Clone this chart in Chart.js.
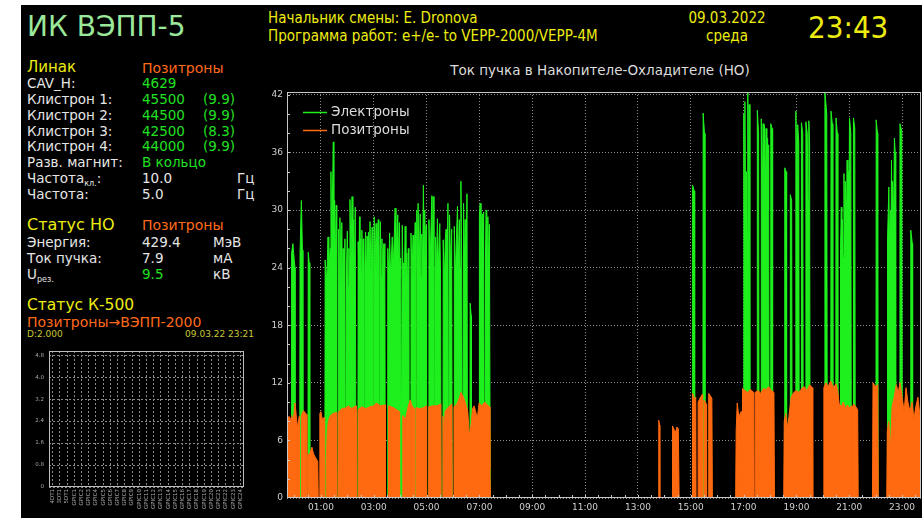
<!DOCTYPE html>
<html><head><meta charset="utf-8">
<script src="https://cdn.jsdelivr.net/npm/chart.js@4.4.1/dist/chart.umd.min.js"></script>
<style>
html,body{margin:0;padding:0;background:#fff;width:922px;height:518px;overflow:hidden;position:relative;}
#scr{position:absolute;left:21px;top:5px;width:901px;height:513px;background:#000;}
.t{position:absolute;white-space:nowrap;line-height:1;font-family:"DejaVu Sans",sans-serif;font-size:13.5px;color:#e6e6e6;}
.c{font-family:"DejaVu Sans Condensed","DejaVu Sans",sans-serif;font-stretch:condensed;}
.y{color:#ecec10}.o{color:#ff6a1a}.g{color:#22e022}
.t sub{font-size:8px;vertical-align:baseline;position:relative;top:3px;}
#main{position:absolute;left:240px;top:60px;}
#small{position:absolute;left:21px;top:340px;}
</style></head><body>
<div id="scr"></div>

<div class="t" style="left:27px;top:13px;font-size:28px;color:#9be89b">ИК ВЭПП-5</div>

<div class="t y" style="left:27px;top:60px;font-size:15px">Линак</div>
<div class="t o" style="left:142px;top:60.5px;font-size:14px">Позитроны</div>

<div class="t" style="left:27px;top:76.5px">CAV_H:</div>
<div class="t g" style="left:142px;top:76.5px">4629</div>
<div class="t" style="left:27px;top:92.5px">Клистрон 1:</div>
<div class="t g" style="left:142px;top:92.5px">45500</div>
<div class="t g" style="left:203px;top:92.5px">(9.9)</div>
<div class="t" style="left:27px;top:108.5px">Клистрон 2:</div>
<div class="t g" style="left:142px;top:108.5px">44500</div>
<div class="t g" style="left:203px;top:108.5px">(9.9)</div>
<div class="t" style="left:27px;top:124.5px">Клистрон 3:</div>
<div class="t g" style="left:142px;top:124.5px">42500</div>
<div class="t g" style="left:203px;top:124.5px">(8.3)</div>
<div class="t" style="left:27px;top:139.5px">Клистрон 4:</div>
<div class="t g" style="left:142px;top:139.5px">44000</div>
<div class="t g" style="left:203px;top:139.5px">(9.9)</div>
<div class="t" style="left:27px;top:155.5px">Разв. магнит:</div>
<div class="t g" style="left:142px;top:155.5px">В кольцо</div>
<div class="t" style="left:27px;top:171.5px">Частота<sub>кл.</sub>:</div>
<div class="t" style="left:142px;top:171.5px">10.0</div>
<div class="t" style="left:237px;top:171.5px">Гц</div>
<div class="t" style="left:27px;top:187.5px">Частота:</div>
<div class="t" style="left:142px;top:187.5px">5.0</div>
<div class="t" style="left:237px;top:187.5px">Гц</div>

<div class="t y" style="left:27px;top:217px;font-size:16px">Статус НО</div>
<div class="t o" style="left:142px;top:218px;font-size:14px">Позитроны</div>
<div class="t" style="left:27px;top:235.5px">Энергия:</div>
<div class="t" style="left:142px;top:235.5px">429.4</div>
<div class="t" style="left:213px;top:235.5px">МэВ</div>
<div class="t" style="left:27px;top:251.5px">Ток пучка:</div>
<div class="t" style="left:142px;top:251.5px">7.9</div>
<div class="t" style="left:213px;top:251.5px">мА</div>
<div class="t" style="left:27px;top:267.5px">U<sub>рез.</sub></div>
<div class="t g" style="left:142px;top:267.5px">9.5</div>
<div class="t" style="left:213px;top:267.5px">кВ</div>

<div class="t y" style="left:27px;top:297.5px;font-size:15.5px">Статус К-500</div>
<div class="t o" style="left:27px;top:315px;font-size:14px">Позитроны→ВЭПП-2000</div>
<div class="t" style="left:27px;top:330px;font-size:9px;color:#c8c832">D:2.000</div>
<div class="t" style="right:668px;top:330px;font-size:9px;color:#c8c832">09.03.22 23:21</div>

<div class="t c y" style="left:268px;top:11px;font-size:15px">Начальник смены: E. Dronova</div>
<div class="t c y" style="left:268px;top:29px;font-size:15px">Программа работ: e+/e- to VEPP-2000/VEPP-4M</div>
<div class="t c y" style="left:727px;top:11px;font-size:15px;transform:translateX(-50%)">09.03.2022</div>
<div class="t c y" style="left:727px;top:29px;font-size:15px;transform:translateX(-50%)">среда</div>
<div class="t c y" style="left:808px;top:12px;font-size:31px">23:43</div>

<div class="t" style="left:600px;top:63.5px;transform:translateX(-50%);color:#dcdcdc">Ток пучка в Накопителе-Охладителе (НО)</div>

<canvas id="main" width="682" height="458"></canvas>
<canvas id="small" width="235" height="178"></canvas>

<script>
// ---- main chart data (hours since 00:00, beam current mA) ----
const seriesNames = ['Электроны', 'Позитроны'];
const hourTicks = [1,3,5,7,9,11,13,15,17,19,21,23];
const currentTicks = [0,6,12,18,24,30,36,42];

const electrons = [
[-0.283,0],[-0.11,0],[-0.11,25.5],[-0.06,26.5],[-0.01,24.8],[0.02,24.0],[0.02,0],
[0.20,0],[0.21,25.5],[0.26,31.0],[0.30,25.8],[0.32,0],
[0.51,0],[0.52,25.6],[0.56,24.5],[0.58,0],
[1.15,0],[1.16,24.8],[1.22,22.5],[1.27,27.2],[1.30,23.0],[1.35,26.0],[1.38,34.0],[1.41,26.5],[1.47,37.1],[1.49,25.0],[1.52,31.0],[1.55,24.5],[1.58,30.5],[1.60,0],
[1.66,0],[1.67,28.0],[1.70,23.5],[1.72,29.2],[1.76,22.0],[1.79,28.7],[1.82,21.5],[1.84,26.0],[1.87,22.0],[1.91,27.0],[1.93,0],[1.96,0],[1.97,24.0],[2.00,27.8],[2.03,22.0],[2.06,26.0],[2.08,24.0],[2.10,31.1],[2.14,25.0],[2.18,31.4],[2.21,24.0],[2.24,29.0],[2.27,23.0],[2.30,30.3],[2.33,0],
[2.40,0],[2.41,26.7],[2.44,23.0],[2.46,29.3],[2.48,24.0],[2.50,27.0],[2.53,23.5],[2.55,27.9],[2.58,22.5],[2.60,27.0],[2.62,0],[2.65,0],[2.66,24.0],[2.69,27.7],[2.72,23.0],[2.75,27.3],[2.78,23.5],[2.80,27.7],[2.83,24.0],[2.86,28.8],[2.90,23.0],[2.94,28.2],[2.96,0],[2.99,0],[3.00,25.0],[3.02,29.3],[3.05,24.0],[3.09,28.6],[3.12,23.5],[3.17,29.0],[3.19,0],[3.22,0],[3.23,25.0],[3.25,28.8],[3.28,23.0],[3.31,27.0],[3.34,22.5],[3.38,26.5],[3.41,24.0],[3.42,26.5],[3.44,0],
[3.52,0],[3.53,26.0],[3.57,23.0],[3.60,27.6],[3.64,23.0],[3.70,27.2],[3.74,24.0],[3.81,30.2],[3.84,25.0],[3.91,29.5],[3.94,24.0],[3.97,28.7],[4.00,23.0],[4.02,25.0],[4.04,0],[4.07,0],[4.08,28.4],[4.11,23.0],[4.13,24.5],[4.16,22.5],[4.19,28.3],[4.22,23.0],[4.25,25.5],[4.28,22.0],[4.31,26.0],[4.33,0],
[4.40,0],[4.41,27.6],[4.45,23.0],[4.49,27.4],[4.52,23.0],[4.57,28.7],[4.59,0],[4.62,0],[4.63,30.0],[4.65,24.0],[4.68,30.7],[4.72,24.0],[4.76,29.6],[4.79,23.0],[4.82,27.5],[4.85,24.0],[4.88,32.6],[4.91,25.0],[4.93,30.0],[4.96,24.0],[4.98,28.4],[5.00,0],
[5.08,0],[5.09,29.0],[5.13,24.0],[5.20,31.5],[5.22,25.0],[5.25,31.4],[5.28,0],[5.31,0],[5.32,24.0],[5.34,27.2],[5.37,23.0],[5.41,29.1],[5.45,24.0],[5.50,28.6],[5.53,23.0],[5.55,0],
[5.62,0],[5.63,26.9],[5.67,22.0],[5.71,27.0],[5.74,28.0],[5.77,23.0],[5.81,30.7],[5.83,0],[5.86,0],[5.87,29.5],[5.91,23.5],[5.95,28.0],[5.97,0],
[6.04,0],[6.05,28.3],[6.09,23.0],[6.13,27.0],[6.17,30.4],[6.20,24.0],[6.24,29.0],[6.27,24.0],[6.30,33.0],[6.33,25.0],[6.36,0],[6.39,0],[6.40,30.7],[6.43,24.0],[6.46,29.0],[6.49,23.0],[6.53,31.7],[6.55,0],
[6.64,0],[6.65,20.3],[6.69,19.0],[6.70,0],
[6.99,0],[7.00,29.5],[7.03,30.7],[7.06,24.0],[7.10,29.6],[7.13,24.0],[7.16,29.8],[7.19,0],[7.22,0],[7.23,25.0],[7.25,30.0],[7.28,29.9],[7.30,24.0],[7.32,29.3],[7.35,23.0],[7.38,28.5],[7.41,0],
[15.06,0],[15.07,32.6],[15.13,32.0],[15.15,0],
[15.46,0],[15.47,40.1],[15.52,38.0],[15.54,0],
[17.00,0],[17.01,40.0],[17.03,30.0],[17.05,41.3],[17.08,28.0],[17.11,34.0],[17.14,27.0],[17.16,42.2],[17.19,30.0],[17.21,41.0],[17.24,0],
[17.51,0],[17.52,40.4],[17.57,38.0],[17.59,0],
[17.66,0],[17.67,39.5],[17.70,30.0],[17.74,39.0],[17.77,31.0],[17.79,38.8],[17.82,30.0],[17.85,38.5],[17.88,31.0],[17.91,37.5],[17.93,30.0],[17.95,36.8],[17.97,0],
[18.02,0],[18.03,39.0],[18.08,38.5],[18.10,0],
[18.55,0],[18.56,34.4],[18.61,34.0],[18.63,0],
[18.76,0],[18.77,31.6],[18.82,31.0],[18.84,0],
[18.97,0],[18.98,40.3],[19.02,33.0],[19.05,38.9],[19.09,37.0],[19.11,0],
[19.18,0],[19.19,39.1],[19.24,38.0],[19.26,0],
[19.35,0],[19.36,39.2],[19.41,38.0],[19.44,31.0],[19.47,39.3],[19.50,37.0],[19.52,0],
[20.07,0],[20.08,42.3],[20.15,40.0],[20.17,0],
[20.30,0],[20.31,40.3],[20.36,39.0],[20.38,0],
[20.49,0],[20.50,39.6],[20.55,38.0],[20.57,0],
[20.66,0],[20.67,26.0],[20.70,30.3],[20.72,24.0],[20.74,29.0],[20.77,25.0],[20.80,33.8],[20.83,27.0],[20.85,33.0],[20.89,28.0],[20.92,35.2],[20.95,29.0],[20.97,34.0],[20.99,30.0],[21.01,39.6],[21.06,38.0],[21.08,0],
[21.15,0],[21.16,39.6],[21.21,38.5],[21.23,0],
[22.01,0],[22.02,39.4],[22.07,38.0],[22.08,0],
[22.44,0],[22.45,27.0],[22.50,32.4],[22.53,26.0],[22.56,30.0],[22.58,27.0],[22.60,35.2],[22.62,28.0],[22.64,33.0],[22.68,29.0],[22.71,37.5],[22.74,36.0],[22.76,0],
[22.91,0],[22.92,39.0],[22.99,38.2],[23.01,0],
[23.32,0],[23.33,27.9],[23.39,26.5],[23.40,0],
[23.717,0]
];

const positrons = [
[-0.283,8.3],[-0.20,8.5],[-0.15,8.2],[-0.15,0],[-0.11,0],[-0.11,8.6],[-0.05,8.0],[0.02,9.9],[0.08,8.2],[0.12,7.3],[0.18,8.5],[0.19,0],
[0.26,0],[0.26,8.6],[0.34,9.1],[0.40,8.9],[0.46,8.7],[0.47,0],
[0.51,0],[0.51,4.5],[0.58,4.6],[0.66,5.3],[0.72,4.6],[0.80,4.2],[0.88,3.8],[0.90,0],
[0.96,0],[0.96,8.8],[1.00,9.0],[1.05,8.2],[1.12,8.4],[1.14,0],
[1.20,0],[1.20,3.5],[1.24,7.0],[1.28,8.0],[1.34,8.5],[1.45,8.8],[1.58,8.9],[1.60,0],
[1.67,0],[1.67,9.0],[1.80,9.3],[1.95,9.4],[2.05,9.6],[2.15,9.3],[2.33,9.6],[2.34,0],
[2.41,0],[2.41,9.2],[2.55,9.5],[2.70,9.3],[2.85,9.5],[3.00,9.6],[3.10,9.9],[3.25,9.6],[3.43,9.7],[3.44,0],
[3.56,0],[3.56,9.6],[3.75,9.4],[3.97,9.0],[3.98,0],
[4.10,0],[4.10,8.6],[4.20,8.2],[4.30,9.5],[4.38,10.2],[4.45,9.6],[4.54,9.3],[4.55,0],
[4.60,0],[4.60,9.4],[4.75,9.3],[4.88,9.4],[4.99,9.6],[5.00,0],
[5.08,0],[5.08,9.5],[5.25,9.6],[5.40,9.6],[5.54,9.8],[5.55,0],
[5.62,0],[5.62,8.5],[5.65,5.8],[5.70,9.0],[5.80,9.4],[5.96,9.8],[5.97,0],
[6.04,0],[6.04,9.5],[6.15,9.8],[6.25,10.5],[6.30,11.0],[6.38,10.6],[6.46,10.0],[6.56,9.0],[6.62,6.5],[6.68,7.5],[6.74,9.3],[6.80,9.6],[6.86,9.0],[6.92,8.3],[6.99,9.9],[7.10,9.6],[7.20,10.0],[7.30,9.7],[7.38,9.5],[7.40,3.0],[7.42,0],
[13.78,0],[13.79,8.1],[13.82,7.6],[13.83,0],
[14.30,0],[14.31,7.5],[14.36,7.2],[14.40,6.8],[14.44,7.0],[14.48,7.4],[14.53,7.2],[14.56,0],
[15.06,0],[15.07,10.9],[15.15,10.2],[15.19,10.5],[15.20,0],
[15.28,0],[15.28,10.0],[15.35,10.4],[15.44,10.8],[15.45,0],
[15.50,0],[15.50,10.2],[15.59,9.8],[15.60,0],
[15.68,0],[15.68,10.9],[15.80,10.4],[15.82,0],
[16.70,0],[16.72,7.0],[16.76,9.9],[16.82,8.5],[16.91,9.0],[16.92,0],
[16.96,0],[16.96,11.4],[17.05,11.2],[17.15,11.0],[17.25,11.3],[17.39,11.0],[17.40,0],
[17.44,0],[17.44,11.0],[17.55,11.2],[17.65,10.9],[17.75,11.4],[17.85,11.3],[17.95,11.6],[18.05,11.2],[18.15,11.0],[18.17,0],
[18.52,0],[18.54,8.0],[18.60,8.8],[18.66,7.3],[18.72,8.5],[18.80,10.5],[18.90,11.0],[19.00,11.2],[19.10,11.0],[19.20,11.4],[19.30,11.6],[19.40,11.2],[19.50,11.8],[19.60,11.5],[19.62,0],
[20.02,0],[20.04,11.5],[20.12,12.0],[20.20,11.6],[20.30,12.2],[20.40,11.5],[20.50,11.9],[20.57,11.0],[20.62,9.8],[20.70,9.5],[20.78,10.0],[20.85,9.3],[20.93,9.7],[21.00,9.4],[21.11,9.6],[21.12,0],
[21.16,0],[21.16,9.8],[21.25,9.5],[21.32,9.2],[21.34,0],
[21.88,0],[21.90,12.0],[22.00,11.6],[22.08,11.8],[22.10,0],
[22.42,0],[22.44,7.0],[22.50,8.0],[22.56,5.0],[22.62,9.5],[22.70,10.5],[22.78,11.8],[22.86,11.0],[22.92,12.0],[23.00,10.5],[23.08,9.0],[23.15,11.5],[23.22,10.0],[23.30,9.0],[23.38,10.0],[23.45,8.2],[23.52,9.5],[23.60,10.5],[23.68,8.5],[23.717,7.0]
];

// ---- small chart data ----
const pickupLabels = ['4DT1','3DT1','5DT1','GPIC1','GPIC2','GPIC3','GPIC4','GPIC5','GPIC6','GPIC7','GPIC8','GPIC9','GPIC10','GPIC11','GPIC12','GPIC13','GPIC14','GPIC15','GPIC16','GPIC17','GPIC18','GPIC19','GPIC20','GPIC21','GPIC22','GPIC23','GPIC24'];
const pickupValues = [0,0,0,0,0,0,0,0,0,0,0,0,0,0,0,0,0,0,0,0,0,0,0,0,0,0,0];
const pickupTicks = [0,0.8,1.6,2.4,3.2,4,4.8];

const GREEN = '#1ef01e', ORANGE = '#ff6a10';
const toXY = arr => arr.map(p => ({x: p[0], y: p[1]}));

const framePlugin = {
  id: 'frame',
  afterDraw(chart, args, opts) {
    const {ctx, chartArea: a, scales} = chart;
    ctx.save();
    ctx.setLineDash([]);
    ctx.strokeStyle = opts.color || '#c8c8c8';
    ctx.lineWidth = 1;
    ctx.strokeRect(Math.round(a.left) + 0.5, Math.round(a.top) + 0.5, Math.round(a.right - a.left) - 1, Math.round(a.bottom - a.top) - 1);
    ctx.beginPath();
    (opts.xMinor || []).forEach(v => {
      const px = Math.round(scales.x.getPixelForValue(v)) + 0.5;
      ctx.moveTo(px, a.bottom); ctx.lineTo(px, a.bottom - (opts.len || 3));
    });
    (opts.yMinor || []).forEach(v => {
      const py = Math.round(scales.y.getPixelForValue(v)) + 0.5;
      ctx.moveTo(a.left, py); ctx.lineTo(a.left + (opts.len || 3), py);
    });
    ctx.stroke();
    ctx.restore();
  }
};

const legendPlugin = {
  id: 'lg',
  afterDatasetsDraw(chart) {
    const {ctx, chartArea: a} = chart;
    ctx.save();
    ctx.font = '13.5px "DejaVu Sans"';
    ctx.textBaseline = 'middle';
    chart.data.datasets.forEach((ds, i) => {
      const y = a.top + 20.5 + i * 18;
      ctx.strokeStyle = ds.borderColor; ctx.lineWidth = 1.5;
      ctx.beginPath(); ctx.moveTo(a.left + 16, y); ctx.lineTo(a.left + 40, y); ctx.stroke();
      ctx.fillStyle = '#dcdcdc';
      ctx.fillText(ds.label, a.left + 44, y);
    });
    ctx.restore();
  }
};

const xMinor = [], yMinor = [];
for (let h = 0; h <= 23.5; h += 0.5) xMinor.push(h);
for (let v = 2; v <= 42; v += 2) yMinor.push(v);

new Chart(document.getElementById('main'), {
  type: 'line',
  data: {
    datasets: [
      {label: seriesNames[0], data: toXY(electrons), borderColor: GREEN, backgroundColor: GREEN, fill: 'origin', order: 2},
      {label: seriesNames[1], data: toXY(positrons), borderColor: ORANGE, backgroundColor: ORANGE, fill: 'origin', order: 1}
    ]
  },
  options: {
    responsive: false, animation: false, devicePixelRatio: 1,
    layout: {padding: {top: 32, right: 1, left: 0, bottom: 0}},
    elements: {point: {radius: 0}, line: {borderWidth: 1, tension: 0}},
    plugins: {legend: {display: false}, tooltip: {enabled: false},
      frame: {color: '#c8c8c8', xMinor, yMinor, len: 3}},
    scales: {
      x: {
        type: 'linear', min: -0.2833, max: 23.7167,
        afterBuildTicks: s => { s.ticks = hourTicks.map(v => ({value: v})); },
        afterFit: s => { s.height = 20; },
        ticks: {color: '#d0d0d0', font: {family: 'DejaVu Sans', size: 9}, padding: 4, maxRotation: 0, autoSkip: false,
          callback: v => String(v).padStart(2, '0') + ':00'},
        grid: {color: '#8e8e8e', lineWidth: 1, drawTicks: false},
        border: {display: false, dash: [1, 2]}
      },
      y: {
        min: 0, max: 42.3,
        afterBuildTicks: s => { s.ticks = currentTicks.map(v => ({value: v})); },
        afterFit: s => { s.width = 47; },
        ticks: {color: '#d0d0d0', font: {family: 'DejaVu Sans', size: 9}, padding: 4},
        grid: {color: '#8e8e8e', lineWidth: 1, drawTicks: false},
        border: {display: false, dash: [1, 2]}
      }
    }
  },
  plugins: [framePlugin, legendPlugin]
});

new Chart(document.getElementById('small'), {
  type: 'bar',
  data: {labels: pickupLabels, datasets: [{data: pickupValues, backgroundColor: GREEN}]},
  options: {
    responsive: false, animation: false, devicePixelRatio: 1,
    layout: {padding: {top: 11, right: 12, left: 0, bottom: 0}},
    plugins: {legend: {display: false}, tooltip: {enabled: false}, frame: {color: '#bdbdbd'}},
    scales: {
      x: {
        afterFit: s => { s.height = 31; },
        ticks: {color: '#a8a8a8', font: {family: 'DejaVu Sans', size: 5.5}, minRotation: 90, maxRotation: 90, autoSkip: false, padding: 2},
        grid: {color: '#8a8a8a', drawTicks: false, offset: false},
        border: {display: false, dash: [2, 2]}
      },
      y: {
        min: 0, max: 4.95,
        afterBuildTicks: s => { s.ticks = pickupTicks.map(v => ({value: v})); },
        afterFit: s => { s.width = 28; },
        ticks: {color: '#a8a8a8', font: {family: 'DejaVu Sans', size: 5.5}, padding: 5},
        grid: {color: '#8a8a8a', drawTicks: false},
        border: {display: false, dash: [2, 2]}
      }
    }
  },
  plugins: [framePlugin]
});
</script>
</body></html>
